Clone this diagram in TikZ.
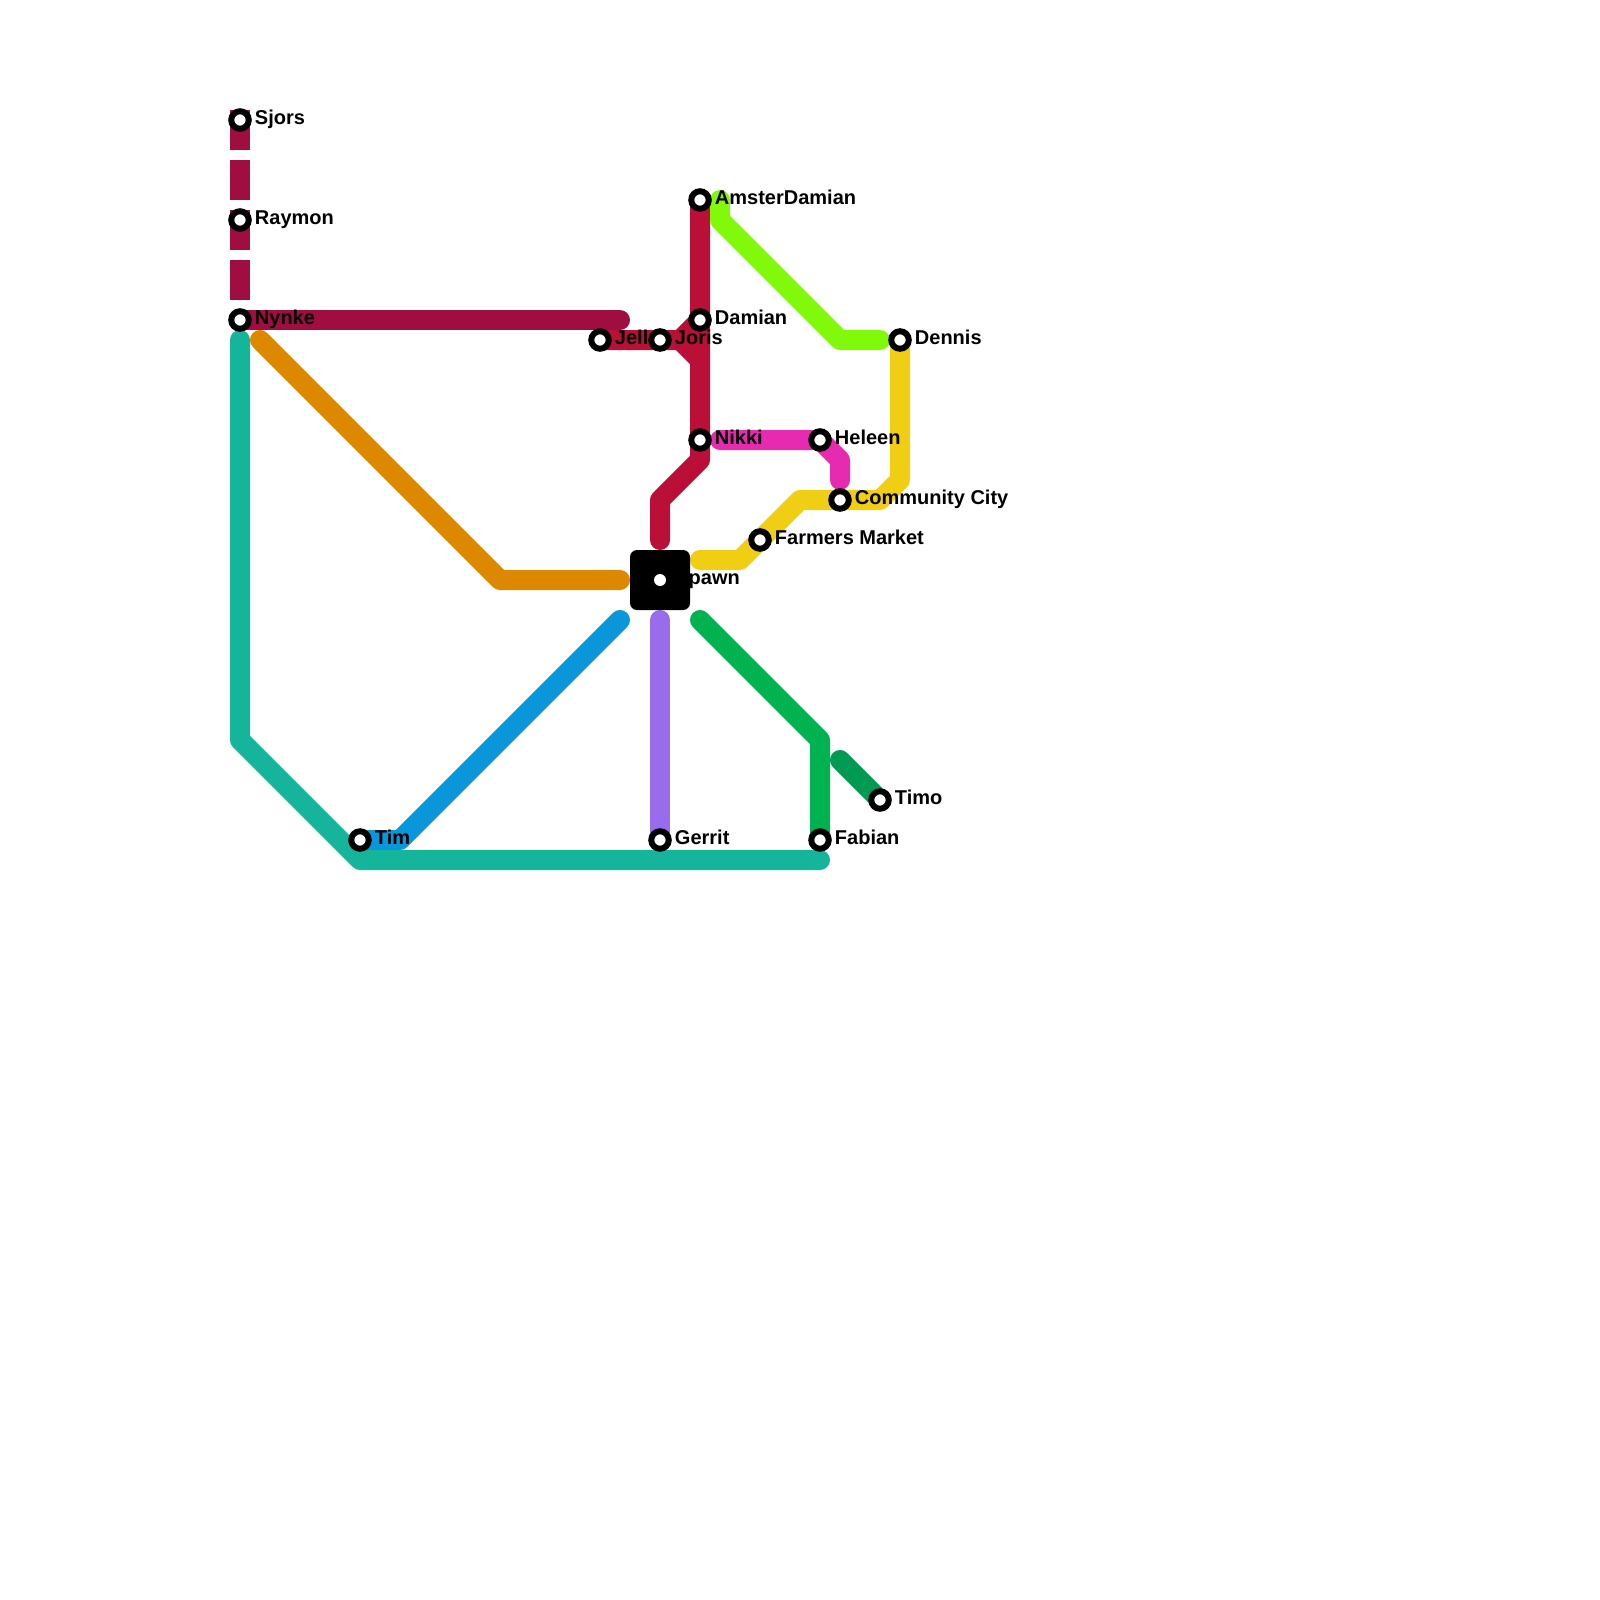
\documentclass[tikz,border=0pt]{standalone}
\usepackage{fontspec}
\setmainfont{Liberation Sans}
\usepackage{xcolor}
\definecolor{maroonline}{HTML}{A00D41}
\definecolor{crimsonline}{HTML}{BA1038}
\definecolor{tealline}{HTML}{15B59B}
\definecolor{orangeline}{HTML}{DE8800}
\definecolor{blueline}{HTML}{0A97D9}
\definecolor{purpleline}{HTML}{996CEC}
\definecolor{greenline}{HTML}{00B250}
\definecolor{darkgreenline}{HTML}{009A52}
\definecolor{limeline}{HTML}{80FA0A}
\definecolor{magentaline}{HTML}{E62BB0}
\definecolor{yellowline}{HTML}{F0CE13}
\usetikzlibrary{positioning,backgrounds}
\pgfdeclarelayer{labels}
\pgfsetlayers{background,labels,main}
\tikzset{
    station/.style={
        circle,
        draw=black,
        fill=white,
        line width=6pt,
        minimum size=17.5pt,
        inner sep=0pt,
    },
    hub/.style={
        rectangle,
        fill=black,
        minimum size=60pt,
        inner sep=0pt,
        rounded corners=7pt,
    },
    hubdot/.style={
        circle,
        fill=white,
        minimum size=12pt,
        inner sep=0pt,
    },
    stationlabel/.style={
        font=\fontsize{20}{22}\selectfont\bfseries,
        text=black,
        inner sep=0pt,
        text height=14pt,
        text depth=4pt,
        yshift=0.5pt,
    },
    metro/.style={
        line width=20pt,
        line cap=round,
        line join=round,
    },
    dashedmetro/.style={
        line width=20pt,
        dash pattern=on 40pt off 10pt,
    },
}

\begin{document}
\begin{tikzpicture}[x=1pt,y=-1pt]
    \useasboundingbox (0,0) rectangle (1600,1600);

    \node[station] (sjors) at (240,120) {};
    \node[station] (raymon) at (240,220) {};
    \node[station] (nynke) at (240,320) {};
    \node[station] (jelle) at (600,340) {};
    \node[station] (joris) at (660,340) {};
    \node[station] (amster) at (700,200) {};
    \node[station] (damian) at (700,320) {};
    \node[station] (nikki) at (700,440) {};
    \node[station] (heleen) at (820,440) {};
    \node[station] (community) at (840,500) {};
    \node[station] (farmers) at (760,540) {};
    \node[station] (dennis) at (900,340) {};
    \node[station] (tim) at (360,840) {};
    \node[station] (gerrit) at (660,840) {};
    \node[station] (fabian) at (820,840) {};
    \node[station] (timo) at (880,800) {};
    \node[hub] (spawn) at (660,580) {};
    \node[hubdot] (spawndot) at (660,580) {};

    \begin{pgfonlayer}{labels}
        \node[stationlabel, right=3pt of sjors] (sjorslabel) {Sjors};
        \node[stationlabel, right=3pt of raymon] (raymonlabel) {Raymon};
        \node[stationlabel, right=3pt of nynke] (nynkelabel) {Nynke};
        \node[stationlabel, right=3pt of jelle] (jellelabel) {Jelle};
        \node[stationlabel, right=3pt of joris] (jorislabel) {Joris};
        \node[stationlabel, right=3pt of amster] (amsterlabel) {AmsterDamian};
        \node[stationlabel, right=3pt of damian] (damianlabel) {Damian};
        \node[stationlabel, right=3pt of nikki] (nikkilabel) {Nikki};
        \node[stationlabel, right=3pt of heleen] (heleenlabel) {Heleen};
        \node[stationlabel, right=3pt of community] (communitylabel) {Community City};
        \node[stationlabel, right=3pt of farmers] (farmerslabel) {Farmers Market};
        \node[stationlabel, right=3pt of dennis] (dennislabel) {Dennis};
        \node[stationlabel, right=3pt of tim] (timlabel) {Tim};
        \node[stationlabel, right=3pt of gerrit] (gerritlabel) {Gerrit};
        \node[stationlabel, right=3pt of fabian] (fabianlabel) {Fabian};
        \node[stationlabel, right=3pt of timo] (timolabel) {Timo};
        \node[stationlabel, right=9pt of spawndot] (spawnlabel) {Spawn};
    \end{pgfonlayer}

    \coordinate (sjorstop) at (240,110);
    \coordinate (nynketop) at (240,300);
    \coordinate (maroonend) at (620,320);
    \coordinate (crossing) at (680,340);
    \coordinate (crossingdown) at (700,360);

    \begin{scope}[on background layer]
        \draw[dashedmetro, maroonline] (sjorstop) -- (nynketop);
        \draw[metro, maroonline] (nynke.center) -- (maroonend);

        \draw[metro, crimsonline] (amster.center) -- (700,460) -- (660,500) -- (660,540);
        \draw[metro, crimsonline] (jelle.center) -- (crossing) -- (damian.center);
        \draw[metro, crimsonline] (crossing) -- (crossingdown);

        \draw[metro, blueline] (620,620) -- (400,840) -- (tim.center);
        \draw[metro, tealline] (240,340) -- (240,740) -- (360,860) -- (820,860);
        \draw[metro, orangeline] (260,340) -- (500,580) -- (620,580);
        \draw[metro, purpleline] (660,620) -- (gerrit.center);
        \draw[metro, greenline] (700,620) -- (820,740) -- (fabian.center);
        \draw[metro, darkgreenline] (840,760) -- (timo.center);
        \draw[metro, limeline] (720,200) -- (720,220) -- (840,340) -- (880,340);
        \draw[metro, magentaline] (720,440) -- (heleen.center) -- (840,460) -- (840,480);
        \draw[metro, yellowline] (700,560) -- (740,560) -- (800,500) -- (880,500) -- (900,480) -- (dennis.center);
    \end{scope}
\end{tikzpicture}
\end{document}
